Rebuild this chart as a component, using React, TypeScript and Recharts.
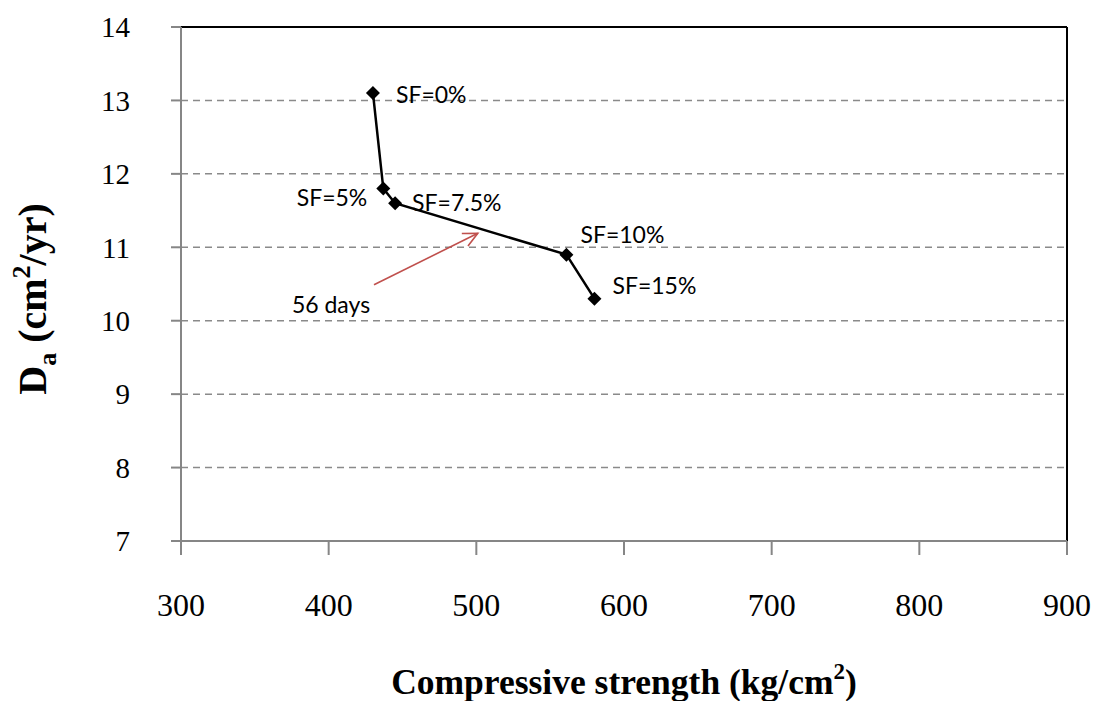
import {
  ScatterChart,
  Scatter,
  XAxis,
  YAxis,
  CartesianGrid,
  ReferenceLine,
  ReferenceDot,
  Label,
} from "recharts";

// compressive strength (kg/cm2) vs apparent diffusion coefficient (cm2/yr), 56 days
const strength = [430, 437, 445, 561, 580];
const diffusion = [13.1, 11.8, 11.6, 10.9, 10.3];
const mixLabels = ["SF=0%", "SF=5%", "SF=7.5%", "SF=10%", "SF=15%"];
const xTicks = [300, 400, 500, 600, 700, 800, 900];
const yTicks = [7, 8, 9, 10, 11, 12, 13, 14];
const arrowFrom = { x: 430.7, y: 10.49 };
const arrowTo = { x: 501, y: 11.19 };
const noteAt = { x: 401.6, y: 10.21 };

const data = strength.map((x, i) => ({ x, y: diffusion[i], label: mixLabels[i] }));

// where each label sits relative to its point
const placement = [
  { dx: 23, dy: 1, anchor: "start" },
  { dx: -16, dy: 8, anchor: "end" },
  { dx: 17, dy: -1, anchor: "start" },
  { dx: 14, dy: -21, anchor: "start" },
  { dx: 18, dy: -14, anchor: "start" },
];

const labelFont = "Lato, 'Open Sans', sans-serif";
const serif = "'Liberation Serif', 'Times New Roman', serif";

function Marker(props: any) {
  const { cx, cy, payload } = props;
  const i = mixLabels.indexOf(payload.label);
  const p = placement[i] || placement[0];
  const s = 7;
  return (
    <g>
      <polygon
        points={`${cx},${cy - s} ${cx + s},${cy} ${cx},${cy + s} ${cx - s},${cy}`}
        fill="#000"
      />
      <text
        x={cx + p.dx}
        y={cy + p.dy}
        textAnchor={p.anchor as any}
        dominantBaseline="central"
        fontFamily={labelFont}
        fontSize={23}
        fill="#000"
      >
        {payload.label}
      </text>
    </g>
  );
}

function Arrow(props: any) {
  const { x1, y1, x2, y2 } = props;
  const ang = Math.atan2(y2 - y1, x2 - x1);
  const len = 16;
  const spread = 0.45;
  const ax = x2 - len * Math.cos(ang - spread);
  const ay = y2 - len * Math.sin(ang - spread);
  const bx = x2 - len * Math.cos(ang + spread);
  const by = y2 - len * Math.sin(ang + spread);
  return (
    <g stroke="#c0504d" strokeWidth={1.6} fill="none">
      <line x1={x1} y1={y1} x2={x2} y2={y2} />
      <polyline points={`${ax},${ay} ${x2},${y2} ${bx},${by}`} />
    </g>
  );
}

export default function App() {
  return (
    <div style={{ position: "absolute", left: 0, top: 0, background: "#fff" }}>
      <ScatterChart
        width={1101}
        height={701}
        margin={{ top: 27, right: 34, left: 0, bottom: 0 }}
      >
        <CartesianGrid
          horizontal
          vertical={false}
          stroke="#8a8a8a"
          strokeWidth={1.5}
          strokeDasharray="7 5"
        />
        <XAxis
          type="number"
          dataKey="x"
          domain={[300, 900]}
          ticks={xTicks}
          height={160}
          stroke="#868686"
          strokeWidth={2}
          tickSize={14}
          tickMargin={38}
          tick={{ fill: "#000", fontSize: 32, fontFamily: serif }}
        >
          <Label
            content={() => (
              <text
                x={624}
                y={694}
                textAnchor="middle"
                fontFamily={serif}
                fontWeight="bold"
                fontSize={35.5}
                fill="#000"
              >
                Compressive strength (kg/cm
                <tspan dy={-15} fontSize={23}>
                  2
                </tspan>
                <tspan dy={15}>)</tspan>
              </text>
            )}
          />
        </XAxis>
        <YAxis
          type="number"
          dataKey="y"
          domain={[7, 14]}
          ticks={yTicks}
          width={181}
          stroke="#868686"
          strokeWidth={2}
          tickSize={10}
          tickMargin={41}
          tick={{ fill: "#000", fontSize: 29, fontFamily: serif }}
        >
          <Label
            content={() => (
              <text
                x={0}
                y={0}
                transform="translate(46,299) rotate(-90)"
                textAnchor="middle"
                fontFamily={serif}
                fontWeight="bold"
                fontSize={40}
                fill="#000"
              >
                D
                <tspan dy={10} fontSize={26}>
                  a
                </tspan>
                <tspan dy={-10}> (cm</tspan>
                <tspan dy={-16} fontSize={26}>
                  2
                </tspan>
                <tspan dy={16}>/yr)</tspan>
              </text>
            )}
          />
        </YAxis>
        <ReferenceLine y={14} stroke="#000" strokeWidth={2} />
        <ReferenceLine x={900} stroke="#000" strokeWidth={2} />
        <ReferenceLine
          segment={[arrowFrom, arrowTo]}
          shape={(p: any) => <Arrow {...p} />}
        />
        <ReferenceDot
          x={noteAt.x}
          y={noteAt.y}
          r={0}
          stroke="none"
          label={{
            value: "56 days",
            position: "center",
            fontFamily: labelFont,
            fontSize: 23,
            fill: "#000",
          }}
        />
        <Scatter
          data={data}
          line={{ stroke: "#000", strokeWidth: 2.5 }}
          lineType="joint"
          shape={(p: any) => <Marker {...p} />}
          isAnimationActive={false}
        />
      </ScatterChart>
    </div>
  );
}
